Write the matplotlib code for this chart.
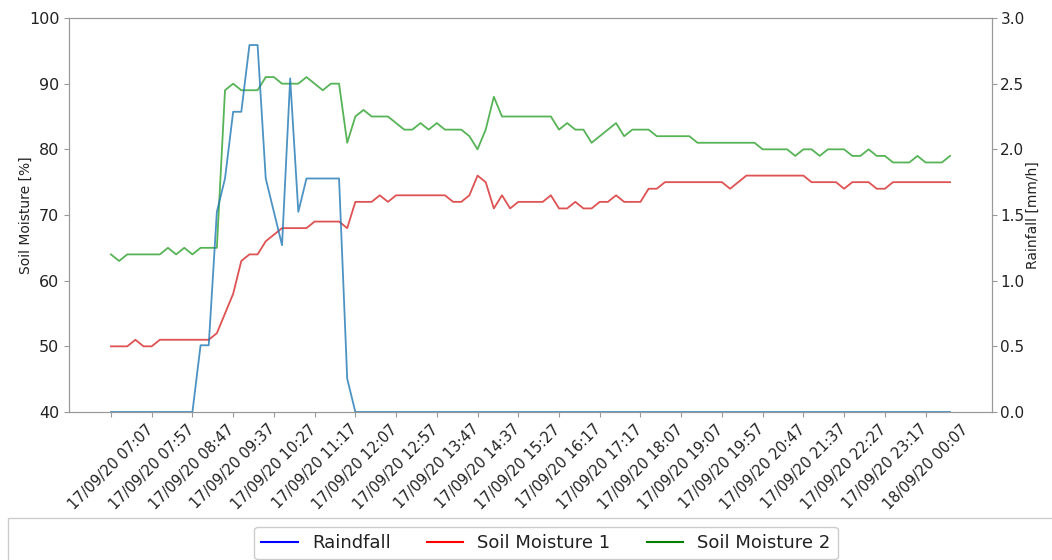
import matplotlib
matplotlib.use("Agg")
import matplotlib.pyplot as plt
from matplotlib.lines import Line2D
from matplotlib.patches import Rectangle

# readings every 10 minutes, 17/09/20 07:07 -> 18/09/20 00:37
rainfall = ([0.0] * 11
            + [0.508, 0.508, 1.524, 1.778, 2.286, 2.286, 2.794, 2.794, 1.778, 1.524,
               1.27, 2.54, 1.524, 1.778, 1.778, 1.778, 1.778, 1.778, 0.254]
            + [0.0] * 74)

soil_moisture_1 = [50, 50, 50, 51, 50, 50, 51,
                   51, 51, 51, 51, 51, 51, 52,
                   55, 58, 63, 64, 64, 66, 67, 68, 68, 68, 68, 69, 69, 69, 69, 68, 72,
                   72, 72, 73, 72, 73, 73, 73, 73, 73, 73, 73, 72, 72, 73, 76, 75, 71, 73,
                   71, 72, 72, 72, 72, 73,
                   71, 71, 72, 71, 71, 72, 72, 73, 72, 72,
                   72, 74, 74, 75, 75, 75, 75, 75, 75, 75, 75, 74, 75, 76, 76,
                   76, 76, 76, 76, 76, 76, 75, 75, 75, 75, 74, 75, 75, 75, 74, 74,
                   75, 75, 75, 75, 75, 75, 75, 75]

soil_moisture_2 = [64, 63, 64, 64, 64, 64, 64,
                   65, 64, 65, 64, 65, 65, 65,
                   89, 90, 89, 89, 89, 91, 91, 90, 90, 90, 91, 90, 89, 90, 90, 81, 85,
                   86, 85, 85, 85, 84, 83, 83, 84, 83, 84, 83, 83, 83, 82, 80, 83, 88, 85,
                   85, 85, 85, 85, 85, 85,
                   83, 84, 83, 83, 81, 82, 83, 84, 82, 83,
                   83, 83, 82, 82, 82, 82, 82, 81, 81, 81, 81, 81, 81, 81, 81,
                   80, 80, 80, 80, 79, 80, 80, 79, 80, 80, 80, 79, 79, 80, 79, 79,
                   78, 78, 78, 79, 78, 78, 78, 79]

tick_labels = ["17/09/20 07:07", "17/09/20 07:57", "17/09/20 08:47", "17/09/20 09:37",
               "17/09/20 10:27", "17/09/20 11:17", "17/09/20 12:07", "17/09/20 12:57",
               "17/09/20 13:47", "17/09/20 14:37", "17/09/20 15:27", "17/09/20 16:17",
               "17/09/20 17:17", "17/09/20 18:07", "17/09/20 19:07", "17/09/20 19:57",
               "17/09/20 20:47", "17/09/20 21:37", "17/09/20 22:27", "17/09/20 23:17",
               "18/09/20 00:07"]
tick_step = 5

plt.rcParams['font.family'] = 'DejaVu Sans'
text_color = '#222222'
spine_color = '#999999'

fig = plt.figure(figsize=(10.52, 5.6), dpi=100)
ax1 = fig.add_axes([69 / 1052, 1 - 412 / 560, 923 / 1052, 394 / 560])
ax2 = ax1.twinx()

x = list(range(len(soil_moisture_1)))
ax2.plot(x, rainfall, color='tab:blue', alpha=0.8, lw=1.3)
ax1.plot(x, soil_moisture_1, color='tab:red', alpha=0.8, lw=1.3)
ax1.plot(x, soil_moisture_2, color='tab:green', alpha=0.8, lw=1.3)

ax1.set_ylim(40, 100)
ax2.set_ylim(0, 3.0)
ax1.set_xlim(-0.05 * (len(x) - 1), 1.05 * (len(x) - 1))

ax1.set_xticks(x[::tick_step][:len(tick_labels)])
ax1.set_xticklabels(tick_labels, rotation=45, fontsize=10.5, color=text_color)
ax1.tick_params(axis='y', labelsize=11.5, labelcolor=text_color, color=spine_color)
ax1.tick_params(axis='x', color=spine_color)
ax2.tick_params(axis='y', labelsize=11, labelcolor=text_color, color=spine_color, pad=2.5)
ax1.set_ylabel('Soil Moisture [%]', fontsize=10, color=text_color, labelpad=-3)
ax2.set_ylabel('Rainfall [mm/h]', fontsize=10, color=text_color, labelpad=1)

for ax in (ax1, ax2):
    for sp in ax.spines.values():
        sp.set_color(spine_color)

# empty framed box running along the bottom of the figure
fig.patches.append(Rectangle((8 / 1052, -0.2), 1.2, 0.2 + (560 - 518) / 560,
                             transform=fig.transFigure, fill=False,
                             edgecolor='#cccccc', lw=1, zorder=1))

handles = [Line2D([], [], color='blue', lw=1.5),
           Line2D([], [], color='red', lw=1.5),
           Line2D([], [], color='green', lw=1.5)]
leg = fig.legend(handles, ['Raindfall', 'Soil Moisture 1', 'Soil Moisture 2'],
                 loc='center', bbox_to_anchor=(546 / 1052, 1 - 543 / 560),
                 ncol=3, fontsize=13, frameon=True, fancybox=True,
                 edgecolor='#cccccc', framealpha=1, handlelength=2.0,
                 columnspacing=2.0)
for t in leg.get_texts():
    t.set_color(text_color)
leg.set_zorder(5)

fig.savefig('out.png', dpi=100)
